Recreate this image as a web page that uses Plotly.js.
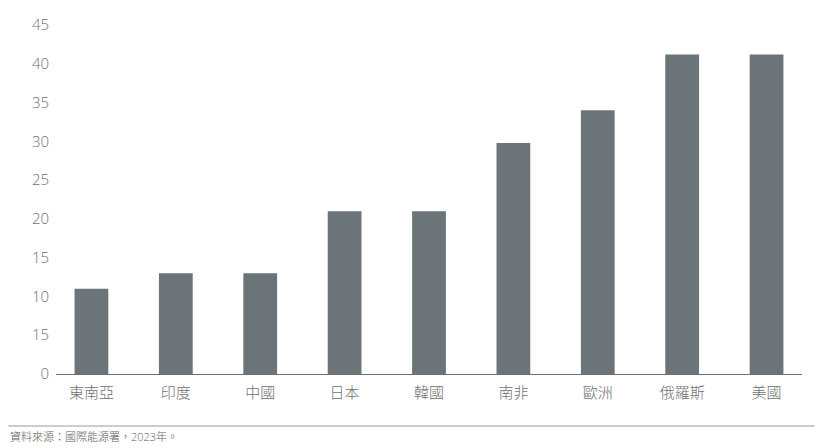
<!DOCTYPE html>
<html>
<head>
<meta charset="utf-8">
<script src="https://cdn.plot.ly/plotly-3.0.1.min.js"></script>
<style>
  html, body { margin: 0; padding: 0; background: #fff; }
  #chart { width: 820px; height: 448px; }
</style>
</head>
<body>
<div id="chart"></div>
<script>
// Values
const regions = ['東南亞', '印度', '中國', '日本', '韓國', '南非', '歐洲', '俄羅斯', '美國'];
const values = [11, 13, 13, 21, 21, 29.8, 34, 41.2, 41.2];

// The source labels the 5 tick as "15"; kept as printed
const yTickVals = [0, 5, 10, 15, 20, 25, 30, 35, 40, 45];
const yTickText = ['0', '15', '10', '15', '20', '25', '30', '35', '40', '45'];

const sourceNote = '資料來源：國際能源署，2023年。';

const fontFamily = '"Open Sans", "Noto Sans CJK TC", sans-serif';

const data = [{
    type: 'bar',
    x: regions,
    y: values,
    marker: { color: '#6b7479' },
    hoverinfo: 'x+y'
}];

const layout = {
    width: 820,
    height: 448,
    margin: { l: 56, r: 18, t: 25, b: 74, pad: 0 },
    paper_bgcolor: '#ffffff',
    plot_bgcolor: '#ffffff',
    bargap: 0.6,
    showlegend: false,
    font: { family: fontFamily, color: '#707070', size: 15 },
    xaxis: {
        type: 'category',
        range: [-0.42, 8.42],
        showline: true,
        linecolor: '#6f6f6f',
        linewidth: 1,
        ticks: '',
        showgrid: false,
        zeroline: false,
        ticklabelstandoff: 5,
        tickfont: { family: fontFamily, size: 15, color: '#707070', weight: 300 },
        fixedrange: true
    },
    yaxis: {
        range: [0, 45],
        tickvals: yTickVals,
        ticktext: yTickText,
        showgrid: false,
        zeroline: false,
        showline: false,
        ticks: '',
        ticklabelstandoff: 6,
        tickfont: { family: fontFamily, size: 15, color: '#707070', weight: 300 },
        fixedrange: true
    },
    shapes: [{
        type: 'line',
        xref: 'paper', yref: 'paper',
        x0: -0.064, x1: 1.017,
        y0: -0.149, y1: -0.149,
        line: { color: '#9a9a9a', width: 1 }
    }],
    annotations: [{
        text: sourceNote,
        xref: 'paper', yref: 'paper',
        x: -0.064, y: -0.18,
        xanchor: 'left', yanchor: 'middle',
        showarrow: false,
        font: { family: fontFamily, size: 11, color: '#606060', weight: 300 }
    }]
};

Plotly.newPlot('chart', data, layout, { displayModeBar: false, staticPlot: true });
</script>
</body>
</html>
